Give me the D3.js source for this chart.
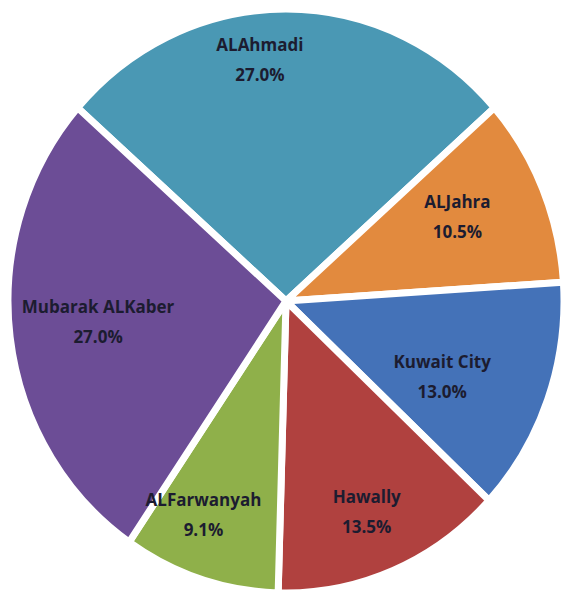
<!DOCTYPE html>
<html>
<head>
<meta charset="utf-8">
<script src="https://cdn.jsdelivr.net/npm/d3@7"></script>
<style>
  body { margin: 0; background: #fff; }
  .slice-label { font-family: "Open Sans", sans-serif; font-weight: 700; fill: #1c1c30; }
</style>
</head>
<body>
<div id="chart-area"></div>
<script>
// data
const regions = ["AlAhmadi", "AlJahra", "Kuwait City", "Hawally", "AlFarwanyah", "Mubarak AlKaber"]
const shares = [27.0, 10.5, 13.0, 13.5, 9.1, 27.0]
const shareLabels = ["27.0%", "10.5%", "13.0%", "13.5%", "9.1%", "27.0%"]
const regionLabels = ["ALAhmadi", "ALJahra", "Kuwait City", "Hawally", "ALFarwanyah", "Mubarak ALKaber"]

const colors = ["#4a98b4", "#e28a3e", "#4472b8", "#b0413f", "#8fb04a", "#6c4d96"]

function drawChart() {
  const width = 563
  const height = 598
  const cx = 286, cy = 301
  const rY = 292
  const rX = 278
  const sx = rX / rY

  // label placement, Excel put them a bit unevenly
  const labelRadius = [0.83, 0.68, 0.62, 0.78, 0.79, 0.68]
  const labelNudge = [-6.5, -2.4, 5.3, 0.8, 4.1, 1]   // degrees
  const fontSize = 17
  const lineGap = 30

  const svg = d3.select("#chart-area")
    .append("svg")
      .attr("width", width)
      .attr("height", height)

  const total = d3.sum(shares)
  const start = -(shares[0] / total) * Math.PI

  const pie = d3.pie()
    .sort(null)
    .value(d => d)
    .startAngle(start)
    .endAngle(start + 2 * Math.PI)

  const arcs = pie(shares)

  const arc = d3.arc()
    .innerRadius(0)
    .outerRadius(rY)

  const slices = svg.append("g")
    .attr("transform", `translate(${cx},${cy}) scale(${sx},1)`)

  slices.selectAll("path")
    .data(arcs)
    .join("path")
      .attr("d", arc)
      .attr("fill", (d, i) => colors[i])
      .attr("stroke", "#fff")
      .attr("stroke-width", 7)
      .attr("stroke-linejoin", "round")
      .attr("vector-effect", "non-scaling-stroke")

  const labels = svg.append("g")
    .attr("transform", `translate(${cx},${cy})`)

  arcs.forEach((d, i) => {
    const mid = (d.startAngle + d.endAngle) / 2 + labelNudge[i] * Math.PI / 180
    const r = rY * labelRadius[i]
    const x = Math.sin(mid) * r * sx
    const y = -Math.cos(mid) * r

    const t = labels.append("text")
      .attr("class", "slice-label")
      .attr("text-anchor", "middle")
      .attr("font-size", fontSize)
      .attr("x", x)
      .attr("y", y)

    t.append("tspan")
      .attr("x", x)
      .attr("dy", -lineGap / 2 + fontSize * 0.35)
      .text(regionLabels[i])
    t.append("tspan")
      .attr("x", x)
      .attr("dy", lineGap)
      .text(shareLabels[i])
  })
}
drawChart()
</script>
</body>
</html>
